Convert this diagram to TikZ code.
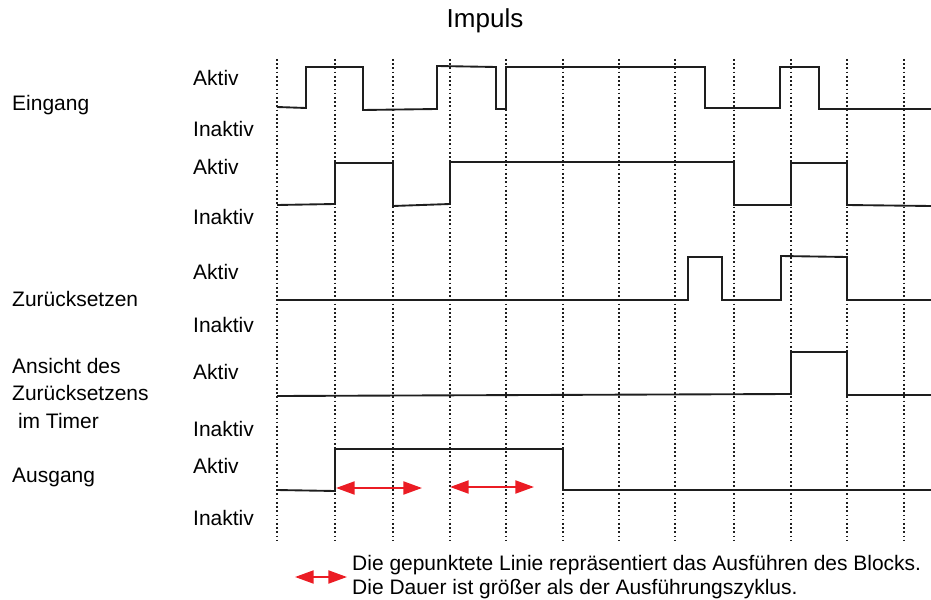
\documentclass[tikz,border=0pt]{standalone}
\usepackage{fontspec}
\setmainfont{Liberation Sans}
\definecolor{tdred}{RGB}{235,28,36}
\definecolor{tdline}{RGB}{30,30,30}
\usetikzlibrary{arrows.meta}

\begin{document}
\begin{tikzpicture}[x=0.03cm, y=-0.03cm,
  sig/.style={line width=1.6pt, tdline, line join=miter},
  tick/.style={line width=1.4pt, tdline, dash pattern=on 1.5pt off 2.1pt},
  lbl/.style={anchor=base west, inner sep=0pt, font=\fontsize{17.9}{21}\selectfont},
  dur/.style={{Triangle[length=5.6mm,width=3.9mm]}-{Triangle[length=5.6mm,width=3.9mm]}, line width=1.8pt, tdred}]
  \useasboundingbox (0,0) rectangle (931,600);

  %--- Title ---
  \node[anchor=base, inner sep=0pt, font=\fontsize{22.2}{26}\selectfont] (title) at (485,28) {Impuls};

  %--- Execution ticks ---
  \foreach \x in {277,335,393,450,506,563,619,675,734,791,847,904}
    \draw[tick] (\x,59) -- (\x,540);

  %--- Signal names ---
  \node[lbl] (eingang) at (12,111) {Eingang};
  \node[lbl] (reset) at (12,306) {Zurücksetzen};
  \node[lbl] (ansicht1) at (12,373) {Ansicht des};
  \node[lbl] (ansicht2) at (12,400) {Zurücksetzens};
  \node[lbl] (ansicht3) at (12,428) {\ im Timer};
  \node[lbl] (ausgang) at (12,482) {Ausgang};

  % Levels
  \node[lbl] (akt1) at (193,86) {Aktiv};
  \node[lbl] (ina1) at (193,137) {Inaktiv};
  \node[lbl] (akt2) at (193,175) {Aktiv};
  \node[lbl] (ina2) at (193,225) {Inaktiv};
  \node[lbl] (akt3) at (193,280) {Aktiv};
  \node[lbl] (ina3) at (193,332) {Inaktiv};
  \node[lbl] (akt4) at (193,379) {Aktiv};
  \node[lbl] (ina4) at (193,436) {Inaktiv};
  \node[lbl] (akt5) at (193,473) {Aktiv};
  \node[lbl] (ina5) at (193,525) {Inaktiv};

  %--- Waveforms ---
  % Eingang
  \draw[sig] (277,107) -- (306,108) -- (306,67) -- (363,67) -- (363,110) -- (437,109) -- (437,66)
    -- (496,67) -- (496,109) -- (506,109) -- (506,67) -- (705,67) -- (705,108) -- (780,108)
    -- (780,67) -- (819,67) -- (819,109) -- (931,109);
  % Eingang (execution)
  \draw[sig] (277,205) -- (335,204) -- (335,163) -- (393,163) -- (393,206) -- (450,204) -- (450,162)
    -- (734,162) -- (734,205) -- (791,205) -- (791,163) -- (847,163) -- (847,205) -- (931,206);
  % Zuruecksetzen
  \draw[sig] (277,300) -- (688,300) -- (688,257) -- (722,257) -- (722,300) -- (781,300) -- (781,256)
    -- (847,257) -- (847,300) -- (931,300);
  % Ansicht im Timer
  \draw[sig] (277,396) -- (791,394) -- (791,352) -- (847,352) -- (847,395) -- (931,395);
  % Ausgang
  \draw[sig] (277,490) -- (335,491) -- (335,449) -- (563,449) -- (563,490) -- (931,490);

  %--- Durations ---
  \coordinate (d1a) at (336,488);
  \coordinate (d1b) at (422,488);
  \coordinate (d2a) at (450,487);
  \coordinate (d2b) at (534,487);
  \draw[dur] (d1a) -- (d1b);
  \draw[dur] (d2a) -- (d2b);

  %--- Legend ---
  \coordinate (lga) at (295,577);
  \coordinate (lgb) at (347,577);
  \draw[dur] (lga) -- (lgb);
  \node[lbl] (legend1) at (352,570) {Die gepunktete Linie repräsentiert das Ausführen des Blocks.};
  \node[lbl] (legend2) at (352,594) {Die Dauer ist größer als der Ausführungszyklus.};
\end{tikzpicture}
\end{document}
